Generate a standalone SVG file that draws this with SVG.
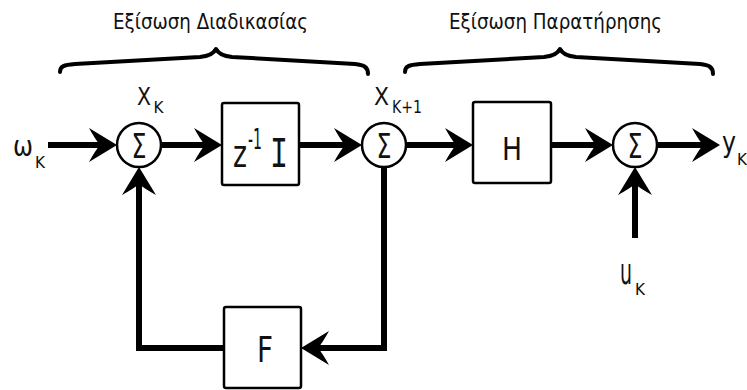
<svg xmlns="http://www.w3.org/2000/svg" width="747" height="390" viewBox="0 0 747 390">
<style>
.ln{fill:none;stroke:#000;stroke-width:6;stroke-linejoin:miter;marker-end:url(#arr)}
.br{fill:none;stroke:#000;stroke-width:4;stroke-linecap:round;stroke-linejoin:round}
.blk{fill:#fff;stroke:#000;stroke-width:2.5}
.t{font-family:"DejaVu Sans","Liberation Sans",sans-serif;fill:#111}
</style>
<defs>
<marker id="arr" markerUnits="userSpaceOnUse" viewBox="-30 -20 32 40" markerWidth="32" markerHeight="40" refX="-15" refY="0" orient="auto" overflow="visible">
<path d="M0,0 L-28,-17 Q-22,-6 -17,0 Q-22,6 -28,17 Z" fill="#000"/>
</marker>
</defs>
<rect width="747" height="390" fill="#fff"/>
<g id="braces">
<path class="br" d="M60,72 C60,66 64,65 75,64 L200,57 C210,56 214,53 216,49 C218,53 222,56 232,57 L355,64 C364,65 368,67 368,74"/>
<path class="br" d="M405,72 C405,66 409,65 420,64 L544,57 C554,56 558,53 560,49 C562,53 566,56 576,57 L700,64 C709,65 713,67 713,74"/>
<text class="t" x="113" y="29" font-size="22" textLength="195" lengthAdjust="spacingAndGlyphs">Εξίσωση Διαδικασίας</text>
<text class="t" x="449" y="29" font-size="22" textLength="213" lengthAdjust="spacingAndGlyphs">Εξίσωση Παρατήρησης</text>
</g>
<g id="connectors">
<path class="ln" d="M48,145 H102"/>
<path class="ln" d="M161,145 H207"/>
<path class="ln" d="M299,145 H347"/>
<path class="ln" d="M406,145 H458"/>
<path class="ln" d="M551,145 H598"/>
<path class="ln" d="M657,145 H705"/>
<path class="ln" d="M635,238 V182"/>
<path class="ln" d="M384,167 V348 H316"/>
<path class="ln" d="M224,348 H139 V182"/>
</g>
<g id="input-w">
<text class="t" x="13" y="156" font-size="28" textLength="20" lengthAdjust="spacingAndGlyphs">ω</text>
<text class="t" x="35" y="168" font-size="15" textLength="10" lengthAdjust="spacingAndGlyphs">K</text>
</g>
<g id="sum1">
<circle class="blk" cx="139" cy="145" r="22"/>
<text class="t" x="139" y="158" font-size="34" text-anchor="middle" textLength="15" lengthAdjust="spacingAndGlyphs">Σ</text>
</g>
<g id="label-xk">
<text class="t" x="137" y="105" font-size="25" textLength="14" lengthAdjust="spacingAndGlyphs">X</text>
<text class="t" x="153.5" y="113" font-size="15" textLength="10" lengthAdjust="spacingAndGlyphs">K</text>
</g>
<g id="delay">
<rect class="blk" x="222" y="103" width="77" height="82" rx="2"/>
<text class="t" x="233" y="167" font-size="38" textLength="14" lengthAdjust="spacingAndGlyphs">z</text>
<text class="t" x="248" y="149" font-size="28" textLength="14" lengthAdjust="spacingAndGlyphs">-1</text>
<text transform="translate(279,167) scale(1,1.45)" x="0" y="0" font-size="30" text-anchor="middle" font-family="'Liberation Mono','DejaVu Sans Mono',monospace" fill="#111">I</text>
</g>
<g id="sum2">
<circle class="blk" cx="384" cy="145" r="22"/>
<text class="t" x="384" y="158" font-size="34" text-anchor="middle" textLength="15" lengthAdjust="spacingAndGlyphs">Σ</text>
</g>
<g id="label-xk1">
<text class="t" x="374" y="105" font-size="25" textLength="15" lengthAdjust="spacingAndGlyphs">X</text>
<text class="t" x="392" y="113" font-size="17" textLength="30" lengthAdjust="spacingAndGlyphs">K+1</text>
</g>
<g id="H">
<rect class="blk" x="473" y="102" width="78" height="81" rx="2"/>
<text class="t" x="512" y="160" font-size="32" text-anchor="middle" textLength="20" lengthAdjust="spacingAndGlyphs">H</text>
</g>
<g id="sum3">
<circle class="blk" cx="635" cy="145" r="22"/>
<text class="t" x="635" y="158" font-size="34" text-anchor="middle" textLength="15" lengthAdjust="spacingAndGlyphs">Σ</text>
</g>
<g id="output-y">
<text class="t" x="722" y="152" font-size="28" textLength="14" lengthAdjust="spacingAndGlyphs">y</text>
<text class="t" x="737" y="165" font-size="15" textLength="10" lengthAdjust="spacingAndGlyphs">K</text>
</g>
<g id="input-u">
<text class="t" x="620" y="284" font-size="36" textLength="12" lengthAdjust="spacingAndGlyphs">u</text>
<text class="t" x="635" y="295" font-size="15" textLength="10" lengthAdjust="spacingAndGlyphs">K</text>
</g>
<g id="F">
<rect class="blk" x="224" y="307" width="77" height="81" rx="2"/>
<text class="t" x="265" y="362" font-size="36" text-anchor="middle" textLength="16" lengthAdjust="spacingAndGlyphs">F</text>
</g>
</svg>
